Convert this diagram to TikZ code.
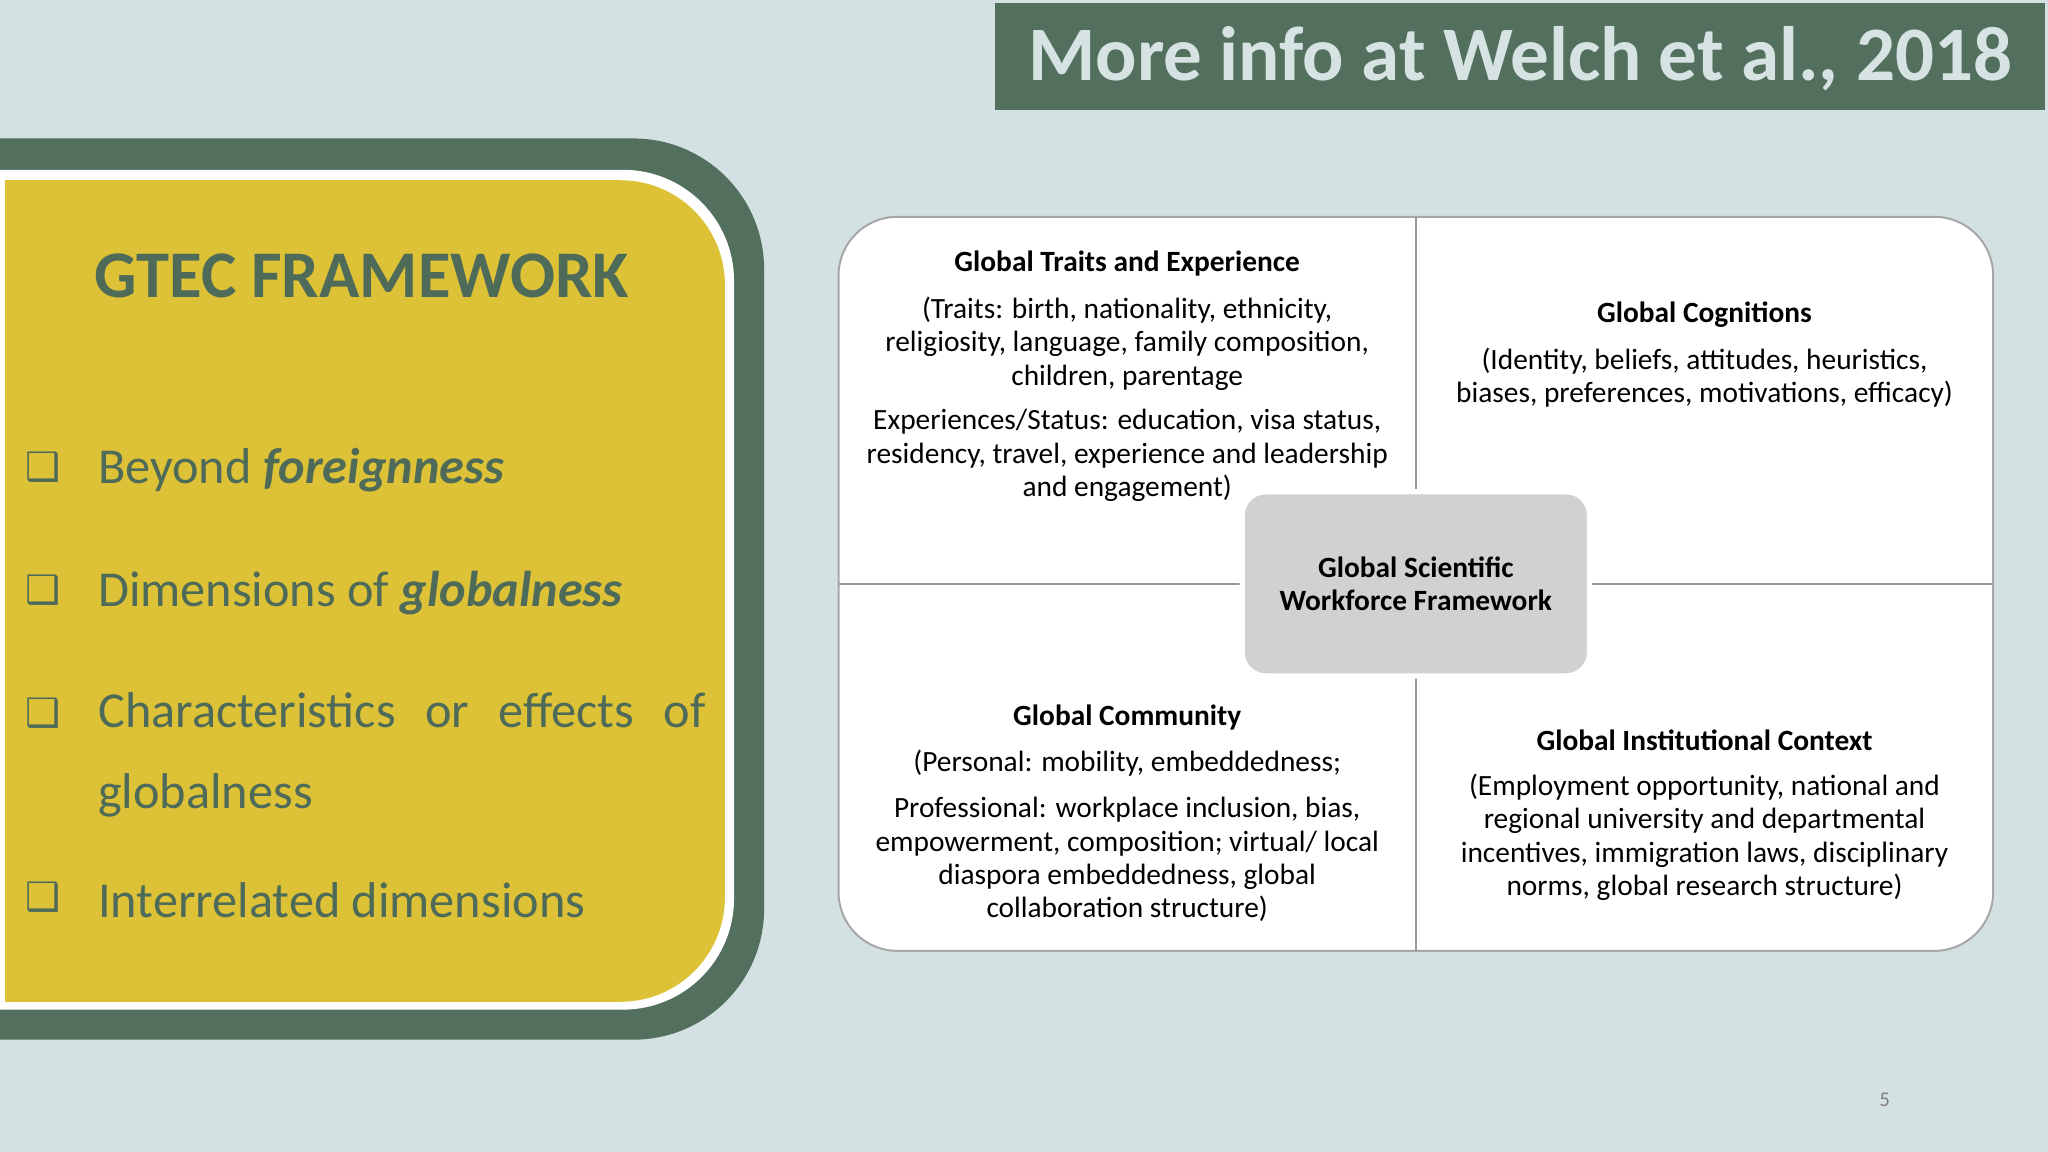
\documentclass[tikz,border=0pt]{standalone}
\usepackage{fontspec}
\setmainfont{Carlito}
\newfontfamily\symfont{DejaVu Sans}
\definecolor{bg}{HTML}{D4E1E3}
\definecolor{dg}{HTML}{52705D}
\definecolor{tg}{HTML}{4E6B5A}
\definecolor{yl}{HTML}{DDC136}
\definecolor{lt}{HTML}{D6E3E2}
\definecolor{cb}{HTML}{D1D0D2}
\tikzset{
 bul/.style={anchor=west,text=tg,font=\fontsize{38.5}{62}\selectfont,inner sep=0pt},
 chk/.style={anchor=center,text=tg,font=\symfont\fontsize{30}{34}\selectfont},
 hd/.style={font=\bfseries\fontsize{22.5}{26}\selectfont,anchor=center},
 bd/.style={font=\fontsize{22.5}{25.5}\selectfont,align=center,anchor=north}
}
\begin{document}
\begin{tikzpicture}[x=1pt,y=-1pt]
\fill[bg] (0,0) rectangle (1568,882);
\useasboundingbox (0,0) rectangle (1568,882);
% title
\fill[dg] (762,2) rectangle (1566,84);
\node (title) [text=lt,font=\bfseries\fontsize{59}{64}\selectfont] at (1164,45) {More info at Welch et al., 2018};
% left panel
\fill[dg,rounded corners=100] (-120,106) -- (585,106) -- (585,796) -- (-120,796) -- cycle;
\fill[white,rounded corners=85] (-120,130) -- (562,130) -- (562,773) -- (-120,773) -- cycle;
\begin{scope}
\clip (4,0) rectangle (600,882);
\fill[yl,rounded corners=80] (-120,138) -- (555,138) -- (555,767) -- (-120,767) -- cycle;
\end{scope}
\node (gtec) [text=tg,font=\bfseries\fontsize{51}{56}\selectfont] at (277,211) {GTEC FRAMEWORK};
\node (c1) [chk] at (33,358) {❑};
\node (c2) [chk] at (33,452) {❑};
\node (c3) [chk] at (33,546) {❑};
\node (c4) [chk] at (33,687) {❑};
\node (b1) [bul] at (75,360) {Beyond \textbf{\textit{foreignness}}};
\node (b2) [bul] at (75,454) {Dimensions of \textbf{\textit{globalness}}};
\node (b3) [bul,anchor=north west,align=left,text width=465] at (75,530) {Characteristics\hfill or\hfill effects\hfill of\\globalness};
\node (b4) [bul] at (75,689) {Interrelated dimensions};
% right panel
\draw[fill=white,draw=gray!70,line width=1.5,rounded corners=45] (642,166) rectangle (1526,728);
\draw[gray!80,line width=1.5] (1084,166) -- (1084,728);
\draw[gray!80,line width=1.5] (642,447) -- (1526,447);
\node (ctr) [fill=cb,draw=white,line width=4,rounded corners=18,minimum width=266,minimum height=141,align=center,font=\bfseries\fontsize{22.5}{25}\selectfont] at (1084,447) {Global Scientific\\Workforce Framework};
\node (h1) [hd] at (863,202) {Global Traits and Experience};
\node (t1) [bd] at (863,224) {(Traits: birth, nationality, ethnicity,\\religiosity, language, family composition,\\children, parentage};
\node (t1b) [bd] at (863,310) {Experiences/Status: education, visa status,\\residency, travel, experience and leadership\\and engagement)};
\node (h2) [hd] at (1305,241) {Global Cognitions};
\node (t2) [bd] at (1305,263) {(Identity, beliefs, attitudes, heuristics,\\biases, preferences, motivations, efficacy)};
\node (h3) [hd] at (863,549) {Global Community};
\node (t3) [bd] at (863,571) {(Personal: mobility, embeddedness;};
\node (t3b) [bd] at (863,607) {Professional: workplace inclusion, bias,\\empowerment, composition; virtual/ local\\diaspora embeddedness, global\\collaboration structure)};
\node (h4) [hd] at (1305,567) {Global Institutional Context};
\node (t4) [bd] at (1305,589) {(Employment opportunity, national and\\regional university and departmental\\incentives, immigration laws, disciplinary\\norms, global research structure)};
\node (pg) [text=gray,font=\fontsize{16}{18}\selectfont] at (1443,842) {5};
\end{tikzpicture}
\end{document}
